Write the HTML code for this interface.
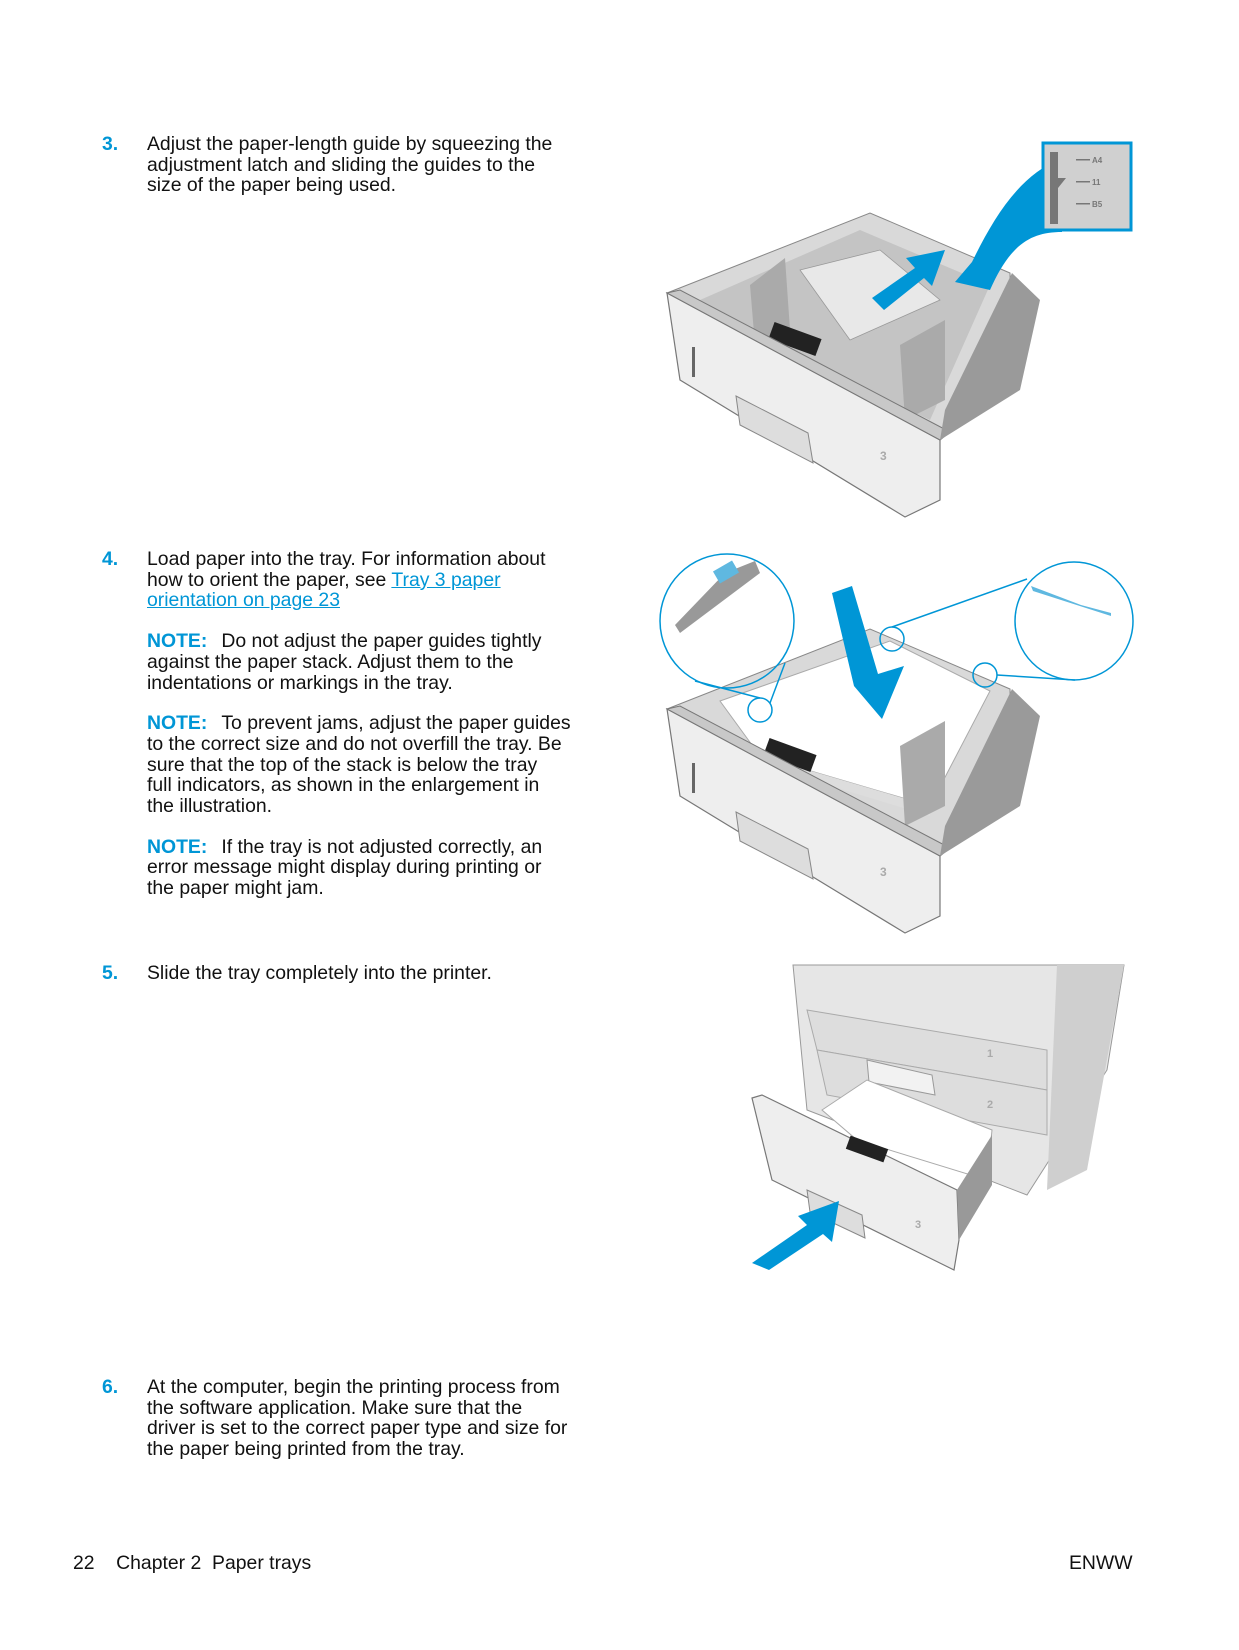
<!DOCTYPE html>
<html><head><meta charset="utf-8"><style>
body{margin:0;background:#fff}
.pg{position:relative;width:1239px;height:1650px;overflow:hidden;font-family:"Liberation Sans Narrow","Liberation Sans",sans-serif;color:#111;font-size:19.4px;line-height:20.7px}
.n{position:absolute;left:102px;color:#0096d6;font-weight:bold}
.t{position:absolute;left:147px;width:480px;white-space:nowrap}
.t p{margin:0}
.note{color:#0096d6;font-weight:bold;margin-right:14px}
a{color:#0096d6;text-decoration:underline}
svg{position:absolute;left:0;top:0}
</style></head><body><div class="pg">
<svg width="1239" height="1650" viewBox="0 0 1239 1650">
<!-- TRAY 1 -->
<g>
<polygon points="667,293 870,213 1010,273 1012,370 940,440" fill="#d9d9d9" stroke="#888" stroke-width="1"/>
<polygon points="700,300 860,230 990,285 930,420 720,320" fill="#c4c4c4"/>
<polygon points="800,270 880,250 940,300 850,340" fill="#e8e8e8" stroke="#999" stroke-width="0.8"/>
<polygon points="750,285 785,258 790,330 755,345" fill="#aaa"/>
<polygon points="900,345 945,320 945,400 905,420" fill="#aaa"/>
<rect x="770" y="330" width="50" height="18" fill="#222" transform="rotate(20 795 339)"/>
<polygon points="667,293 940,440 940,500 905,517 680,380" fill="#eee" stroke="#777" stroke-width="1.2"/>
<polygon points="667,293 680,290 950,432 940,440" fill="#c8c8c8" stroke="#777"/>
<polygon points="736,396 808,433 813,463 740,425" fill="#ddd" stroke="#888"/>
<rect x="692" y="347" width="3" height="30" fill="#666"/>
<text x="880" y="460" font-size="12" fill="#aaa" font-family="Liberation Sans" font-weight="bold">3</text>
<polygon points="1012,273 1040,300 1020,390 940,440 945,410" fill="#9a9a9a"/>
<polygon points="872,298 915,268 906,258 945,250 932,286 924,278 884,310" fill="#0096d6"/>
<path d="M1062,158 C1020,175 995,215 972,262 L955,282 L990,290 C1010,245 1030,232 1062,232 Z" fill="#0096d6"/>
<rect x="1043" y="143" width="88" height="87" fill="#d0d0d0" stroke="#0096d6" stroke-width="3"/>
<rect x="1050" y="152" width="8" height="72" fill="#777"/>
<polygon points="1058,178 1066,178 1058,188" fill="#777"/>
<g fill="#777" font-family="Liberation Sans" font-size="8" font-weight="bold"><rect x="1076" y="159" width="14" height="1.5"/><text x="1092" y="163">A4</text><rect x="1076" y="181" width="14" height="1.5"/><text x="1092" y="185">11</text><rect x="1076" y="203" width="14" height="1.5"/><text x="1092" y="207">B5</text></g>
</g>
<!-- TRAY 2 -->
<g transform="translate(0,416)">
<polygon points="667,293 870,213 1010,273 1012,370 940,440" fill="#d9d9d9" stroke="#888"/>
<polygon points="720,285 890,225 990,275 930,390 760,340" fill="#fff" stroke="#aaa"/>
<polygon points="760,340 930,390 930,400 758,348" fill="#ddd"/>
<polygon points="900,330 945,305 945,390 905,410" fill="#aaa"/>
<rect x="765" y="330" width="50" height="18" fill="#222" transform="rotate(20 790 339)"/>
<polygon points="667,293 940,440 940,500 905,517 680,380" fill="#eee" stroke="#777" stroke-width="1.2"/>
<polygon points="667,293 680,290 950,432 940,440" fill="#c8c8c8" stroke="#777"/>
<polygon points="736,396 808,433 813,463 740,425" fill="#ddd" stroke="#888"/>
<rect x="692" y="347" width="3" height="30" fill="#666"/>
<text x="880" y="460" font-size="12" fill="#aaa" font-family="Liberation Sans" font-weight="bold">3</text>
<polygon points="1012,273 1040,300 1020,390 940,440 945,410" fill="#9a9a9a"/>
</g>
<g transform="translate(16,14)">
<polygon points="816,579 836,572 862,660 888,652 866,705 838,672" fill="#0096d6"/>
</g>
<g fill="none" stroke="#0096d6" stroke-width="1.5">
<g transform="translate(15,13)">
<circle cx="712" cy="608" r="67"/>
<circle cx="745" cy="697" r="12"/><circle cx="877" cy="626" r="12"/><circle cx="970" cy="662" r="12"/>
<line x1="680" y1="668" x2="745" y2="685"/><line x1="770" y1="650" x2="755" y2="690"/>
<line x1="877" y1="614" x2="1012" y2="566"/><line x1="982" y1="662" x2="1060" y2="667"/>
</g>
<circle cx="1074" cy="621" r="59"/>
</g>
<g transform="translate(15,13)">
<polygon points="660,612 710,560 740,548 745,560 665,620" fill="#999"/>
<rect x="700" y="552" width="22" height="14" fill="#5fb8e0" transform="rotate(-30 711 559)"/>
</g>
<polygon points="1031,586 1081,605 1111,613 1111,616 1033,591" fill="#5fb8e0"/>
<!-- PRINTER -->
<g transform="translate(17,20)">
<polygon points="776,945 1107,945 1090,1050 1010,1175 790,1090" fill="#e6e6e6" stroke="#999"/>
<polygon points="1040,945 1107,945 1070,1150 1030,1170" fill="#cfcfcf"/>
<polygon points="790,990 1030,1030 1030,1070 800,1030" fill="#ddd" stroke="#aaa"/>
<polygon points="800,1030 1030,1070 1030,1115 810,1075" fill="#ddd" stroke="#aaa"/>
<polygon points="850,1040 915,1055 918,1075 852,1062" fill="#f2f2f2" stroke="#999"/>
<polygon points="805,1090 850,1060 975,1110 970,1160 840,1120" fill="#fff" stroke="#aaa"/>
<polygon points="735,1078 745,1075 940,1170 942,1220 937,1250 755,1160" fill="#eee" stroke="#777" stroke-width="1.2"/>
<polygon points="790,1170 845,1195 848,1218 793,1192" fill="#ddd" stroke="#888"/>
<polygon points="940,1170 975,1115 975,1165 942,1220" fill="#999"/>
<rect x="830" y="1122" width="40" height="14" fill="#222" transform="rotate(20 850 1129)"/>
<text x="898" y="1208" font-size="11" fill="#aaa" font-family="Liberation Sans" font-weight="bold">3</text>
<text x="970" y="1037" font-size="11" fill="#aaa" font-family="Liberation Sans" font-weight="bold">1</text>
<text x="970" y="1088" font-size="11" fill="#aaa" font-family="Liberation Sans" font-weight="bold">2</text>
<polygon points="735,1243 790,1205 781,1196 822,1181 815,1222 806,1214 752,1250" fill="#0096d6"/>
</g>
</svg>
<div class="n" style="top:134px">3.</div>
<div class="t" style="top:134px">Adjust the paper-length guide by squeezing the<br>adjustment latch and sliding the guides to the<br>size of the paper being used.</div>
<div class="n" style="top:549px">4.</div>
<div class="t" style="top:549px"><p>Load paper into the tray. For information about<br>how to orient the paper, see <a>Tray 3 paper</a><br><a>orientation on page 23</a></p>
<p style="margin-top:20px"><span class="note">NOTE:</span>Do not adjust the paper guides tightly<br>against the paper stack. Adjust them to the<br>indentations or markings in the tray.</p>
<p style="margin-top:20px"><span class="note">NOTE:</span>To prevent jams, adjust the paper guides<br>to the correct size and do not overfill the tray. Be<br>sure that the top of the stack is below the tray<br>full indicators, as shown in the enlargement in<br>the illustration.</p>
<p style="margin-top:20px"><span class="note">NOTE:</span>If the tray is not adjusted correctly, an<br>error message might display during printing or<br>the paper might jam.</p></div>
<div class="n" style="top:963px">5.</div>
<div class="t" style="top:963px">Slide the tray completely into the printer.</div>
<div class="n" style="top:1377px">6.</div>
<div class="t" style="top:1377px">At the computer, begin the printing process from<br>the software application. Make sure that the<br>driver is set to the correct paper type and size for<br>the paper being printed from the tray.</div>
<div style="position:absolute;left:73px;top:1553px">22&nbsp;&nbsp;&nbsp;&nbsp;Chapter 2&nbsp;&nbsp;Paper trays</div>
<div style="position:absolute;left:1069px;top:1553px">ENWW</div>
</div></body></html>
